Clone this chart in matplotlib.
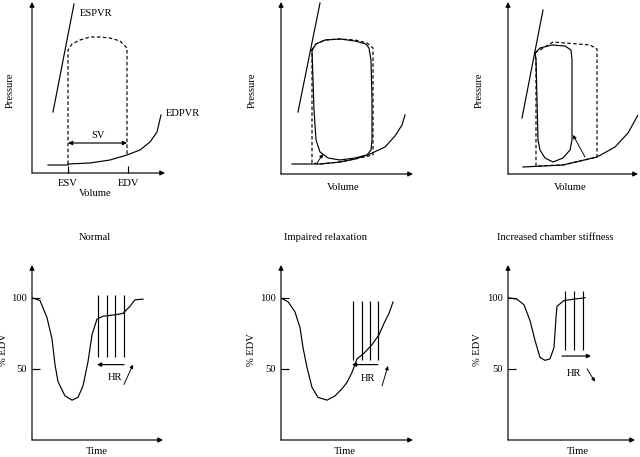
import matplotlib.pyplot as plt

plt.rcParams['font.family'] = ['Liberation Serif', 'DejaVu Serif']
plt.rcParams['font.size'] = 7.6

W, H = 640, 457

# ---- top row: pressure-volume loops (volume, pressure in arbitrary units) ----
titles = ["Normal", "Impaired relaxation", "Increased chamber stiffness"]

# Normal
n_espvr_v = [21, 42]
n_espvr_p = [61, 169]
n_loop_v = [36, 36, 40, 48, 58, 68, 78, 88, 95, 95]
n_loop_p = [9, 123, 129, 133, 136, 136, 135, 132, 125, 18]
n_edpvr_v = [16, 36, 36, 58, 78, 95, 108, 118, 125, 129]
n_edpvr_p = [8, 8, 9, 10, 13, 18, 23, 31, 41, 58]
n_ticks = [36, 96]
n_ticklabels = ["ESV", "EDV"]

# Impaired relaxation
r_espvr_v = [17, 39]
r_espvr_p = [62, 171]
r_loop_v = [31, 35, 44, 59, 74, 85, 88, 90, 91, 91, 90, 86, 74, 59, 47, 39, 35, 33, 32, 31]
r_loop_p = [124, 130, 134, 135, 133, 130, 126, 114, 74, 34, 24, 19, 16, 14, 16, 22, 34, 64, 94, 124]
r_dash_v = [31, 35, 44, 59, 74, 86, 92, 92, 74, 59, 39, 31, 31]
r_dash_p = [124, 130, 134, 135, 134, 131, 126, 19, 15, 12, 10, 11, 124]
r_edpvr_v = [11, 39, 59, 74, 89, 104, 114, 121, 124]
r_edpvr_p = [10, 10, 12, 15, 20, 27, 38, 49, 59]
r_arrow = ((36, 11), (42, 20))

# Increased chamber stiffness
s_espvr_v = [14, 35]
s_espvr_p = [56, 164]
s_loop_v = [27, 32, 44, 57, 63, 64, 64, 64, 62, 55, 45, 37, 32, 30, 29, 28, 27]
s_loop_p = [121, 126, 129, 128, 124, 114, 74, 34, 24, 16, 12, 16, 24, 34, 74, 114, 121]
s_dash_v = [27, 45, 82, 89, 89, 72, 55, 28, 28, 27]
s_dash_p = [121, 132, 129, 125, 17, 13, 9, 8, 114, 121]
s_edpvr_v = [15, 55, 72, 89, 107, 120, 130]
s_edpvr_p = [7, 9, 13, 17, 27, 41, 59]
s_arrow = ((77, 17), (65, 39))

# ---- bottom row: % EDV vs time ----
n_t = [0, 8, 15, 20, 23, 26, 33, 40, 46, 51, 56, 60, 65, 71, 83, 91, 98, 103, 111]
n_edv = [100, 98, 86, 71, 53, 41, 31, 28, 30, 38, 55, 74, 85, 87, 88, 89, 94, 98.5, 99]
n_hr_lines = [66, 75, 83, 92]

r_t = [0.7, 7.3, 14, 19, 22, 26, 31, 37, 46, 54, 61, 66, 71, 76, 83, 91, 98, 103, 108, 112]
r_edv = [99.5, 97, 90, 79, 65, 51, 37, 30, 28, 31, 36, 40.5, 47.5, 57, 61, 67, 74, 82, 89, 97]
r_hr_lines = [72, 81, 89, 97]

s_t = [0, 9, 16, 22, 27, 32, 37, 42, 46, 48, 49, 56, 66, 77]
s_edv = [100, 99, 95, 84, 70, 58, 56, 57, 65, 86, 94, 98, 99, 100]
s_hr_lines = [57, 66, 75]

K = 'k'
LW = 0.85
DASH = (0, (3, 2))
fig = plt.figure(figsize=(W / 100, H / 100), dpi=100)


def px(x, y):
    return x / W, 1 - y / H


def axis_arrows(ax):
    for sp in ax.spines.values():
        sp.set_visible(False)
    ap = dict(arrowstyle='-|>', mutation_scale=7, lw=LW, color=K, shrinkA=0, shrinkB=0)
    ax.annotate('', xy=(0, 1), xytext=(0, 0), xycoords='axes fraction', arrowprops=ap)
    ax.annotate('', xy=(1, 0), xytext=(0, 0), xycoords='axes fraction', arrowprops=ap)


def pv_panel(x0, y0, x1, y1):
    ax = fig.add_axes([x0 / W, 1 - y0 / H, (x1 - x0) / W, (y0 - y1) / H])
    ax.set_xlim(0, x1 - x0)
    ax.set_ylim(0, y0 - y1)
    axis_arrows(ax)
    ax.set_xticks([])
    ax.set_yticks([])
    ax.patch.set_visible(False)
    return ax


def time_panel(x0, x1):
    y0, y1 = 440, 265
    ax = fig.add_axes([x0 / W, 1 - y0 / H, (x1 - x0) / W, (y0 - y1) / H])
    ax.set_xlim(0, x1 - x0)
    ax.set_ylim(0, 123)
    axis_arrows(ax)
    ax.set_xticks([])
    ax.set_yticks([50, 100])
    ax.tick_params(axis='y', direction='in', length=6, width=LW, pad=4, labelsize=7.6)
    ax.patch.set_visible(False)
    return ax


# Normal PV loop
ax = pv_panel(32, 173, 165, 2)
ax.plot(n_espvr_v, n_espvr_p, color=K, lw=LW)
ax.plot(n_loop_v, n_loop_p, color=K, lw=LW, ls=DASH)
ax.plot(n_edpvr_v, n_edpvr_p, color=K, lw=LW)
ax.annotate('', xy=(n_loop_v[0], 30), xytext=(n_loop_v[-1], 30),
            arrowprops=dict(arrowstyle='<|-|>', mutation_scale=6, lw=LW, color=K, shrinkA=0, shrinkB=0))
ax.text(66, 38, "SV", ha='center', va='center')
ax.text(48, 160, "ESPVR", ha='left', va='center')
ax.text(134, 60, "EDPVR", ha='left', va='center', clip_on=False)
ax.set_xticks(n_ticks)
ax.set_xticklabels(n_ticklabels)
ax.tick_params(axis='x', direction='in', length=5, width=LW, pad=4)

# Impaired relaxation PV loop
ax = pv_panel(281, 174, 413, 2)
ax.plot(r_espvr_v, r_espvr_p, color=K, lw=LW)
ax.plot(r_dash_v, r_dash_p, color=K, lw=LW, ls=DASH)
ax.plot(r_loop_v, r_loop_p, color=K, lw=LW)
ax.plot(r_edpvr_v, r_edpvr_p, color=K, lw=LW)
ax.annotate('', xy=r_arrow[1], xytext=r_arrow[0],
            arrowprops=dict(arrowstyle='-|>', mutation_scale=5, lw=LW * 0.8, color=K, shrinkA=0, shrinkB=0))

# Increased stiffness PV loop
ax = pv_panel(508, 174, 638, 2)
ax.plot(s_espvr_v, s_espvr_p, color=K, lw=LW)
ax.plot(s_dash_v, s_dash_p, color=K, lw=LW, ls=DASH)
ax.plot(s_loop_v, s_loop_p, color=K, lw=LW)
ax.plot(s_edpvr_v, s_edpvr_p, color=K, lw=LW)
ax.annotate('', xy=s_arrow[1], xytext=s_arrow[0],
            arrowprops=dict(arrowstyle='-|>', mutation_scale=5, lw=LW * 0.8, color=K, shrinkA=0, shrinkB=0))

# axis labels for top row
for xp, xv, yv in [(10, 95, 193), (252, 343, 188), (479, 570, 188)]:
    fig.text(*px(xp, 90), "Pressure", rotation=90, ha='center', va='center')
    fig.text(*px(xv, yv), "Volume", ha='center', va='center')

for xt, t in zip([95, 325, 555], titles):
    fig.text(*px(xt, 238), t, ha='center', va='center')

# bottom row
panels = [
    (32, 163, n_t, n_edv, n_hr_lines, 'left', (4, 350), (97, 452)),
    (281, 413, r_t, r_edv, r_hr_lines, 'left', (252, 350), (345, 452)),
    (508, 635, s_t, s_edv, s_hr_lines, 'right', (478, 350), (578, 452)),
]
hr_cfg = [
    dict(lines=(58.5, 102), arrow_y=53, label=(83, 44), small=((92, 39), (101, 53))),
    dict(lines=(56, 98), arrow_y=53, label=(87, 43), small=((101, 38), (107, 52))),
    dict(lines=(63, 105), arrow_y=59, label=(66, 47), small=((79, 50), (87, 41))),
]
for (x0, x1, t, v, hr, direc, ylab, xlab), cfg in zip(panels, hr_cfg):
    ax = time_panel(x0, x1)
    ax.plot(t, v, color=K, lw=LW)
    ax.vlines(hr, cfg['lines'][0], cfg['lines'][1], color=K, lw=LW)
    a, b = (hr[-1], hr[0] - 1) if direc == 'left' else (hr[0] - 3, hr[-1] + 8)
    ax.annotate('', xy=(b, cfg['arrow_y']), xytext=(a, cfg['arrow_y']),
                arrowprops=dict(arrowstyle='-|>', mutation_scale=6, lw=LW, color=K, shrinkA=0, shrinkB=0))
    ax.text(*cfg['label'], "HR", ha='center', va='center')
    s0, s1 = cfg['small']
    ax.annotate('', xy=s1, xytext=s0,
                arrowprops=dict(arrowstyle='-|>', mutation_scale=5, lw=LW * 0.8, color=K, shrinkA=0, shrinkB=0))
    fig.text(*px(*ylab), "% EDV", rotation=90, ha='center', va='center')
    fig.text(*px(*xlab), "Time", ha='center', va='center')

fig.savefig("out.png", dpi=100, facecolor='white')
